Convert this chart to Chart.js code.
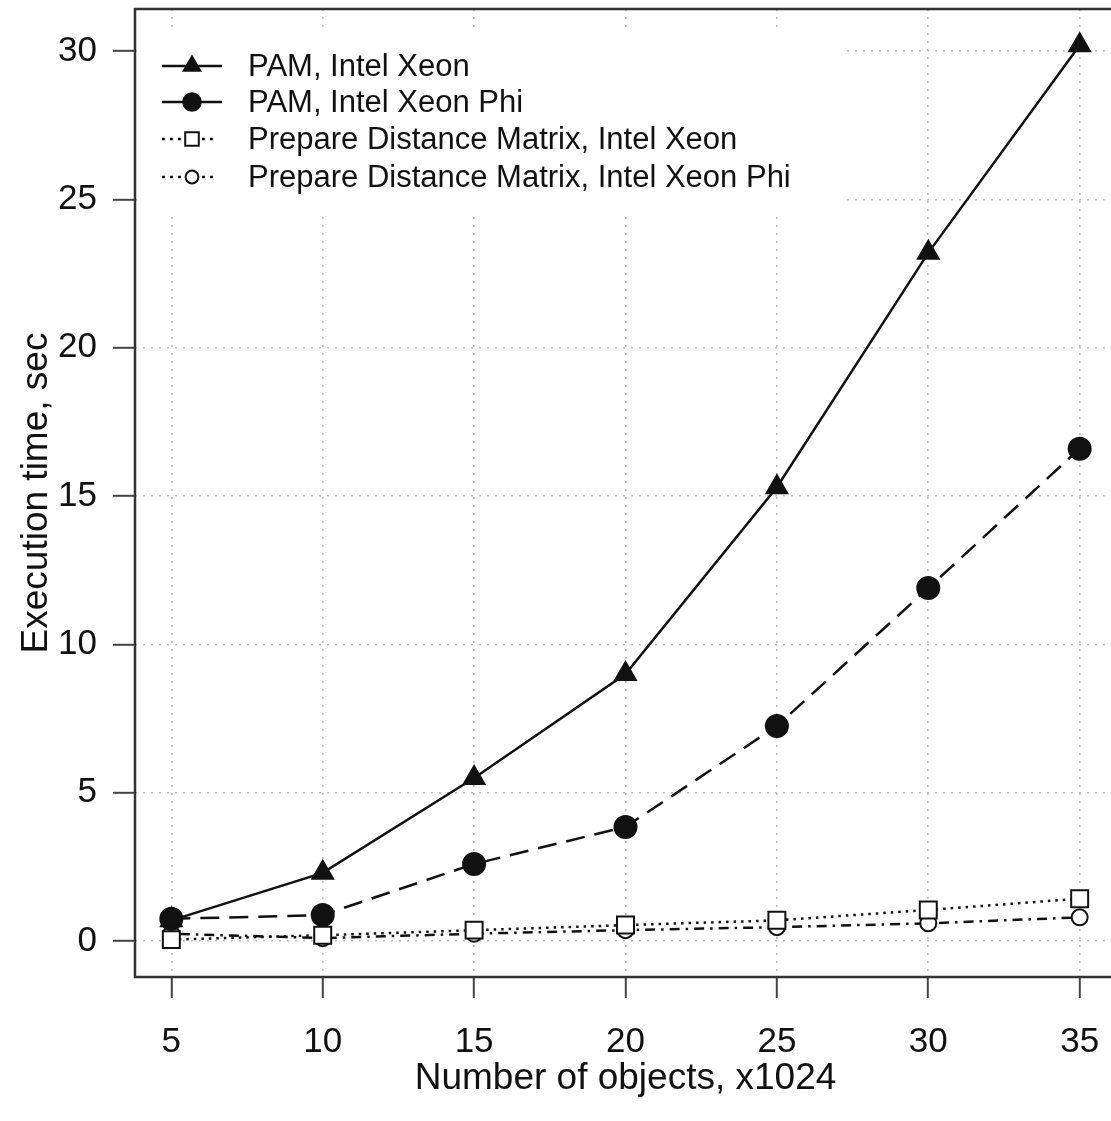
<!DOCTYPE html>
<html>
<head>
<meta charset="utf-8">
<script src="https://cdn.jsdelivr.net/npm/chart.js@4/dist/chart.umd.min.js"></script>
<style>
  html, body { margin: 0; padding: 0; overflow: hidden; background: #fff; }
  #execChart { display: block; margin-top: -28px; }
</style>
</head>
<body>
<canvas id="execChart" width="1130" height="1149"></canvas>
<script>
// values (x = number of objects, x1024; y = seconds)
const objects = [5, 10, 15, 20, 25, 30, 35];
const pamXeon = [0.7, 2.3, 5.5, 9.0, 15.3, 23.2, 30.2];
const pamXeonPhi = [0.75, 0.88, 2.6, 3.85, 7.25, 11.9, 16.6];
const prepXeon = [0.05, 0.2, 0.37, 0.54, 0.7, 1.05, 1.43];
const prepXeonPhi = [0.25, 0.1, 0.25, 0.37, 0.47, 0.6, 0.8];
const xTicks = [5, 10, 15, 20, 25, 30, 35];
const yTicks = [0, 5, 10, 15, 20, 25, 30];

const FONT = '"Liberation Sans", Arial, Helvetica, sans-serif';
const INK = '#111';
const GRID = '#bdbdbd';

function pts(values) {
  return objects.map((x, i) => ({ x, y: values[i] }));
}

const seriesStyles = [
  { label: 'PAM, Intel Xeon', data: pamXeon, dash: [], style: 'triangle', radius: 12, fill: INK },
  { label: 'PAM, Intel Xeon Phi', data: pamXeonPhi, dash: [19, 10], style: 'circle', radius: 11, fill: INK },
  { label: 'Prepare Distance Matrix, Intel Xeon', data: prepXeon, dash: [2.5, 5], style: 'rect', radius: 12, fill: '#fff' },
  { label: 'Prepare Distance Matrix, Intel Xeon Phi', data: prepXeonPhi, dash: [2.5, 6, 10, 6], style: 'circle', radius: 8, fill: '#fff' }
];

const datasets = seriesStyles.map(s => ({
  label: s.label,
  data: pts(s.data),
  borderColor: INK,
  borderWidth: 2.5,
  borderDash: s.dash,
  pointStyle: s.style,
  pointRadius: s.radius,
  pointBackgroundColor: s.fill,
  pointBorderColor: INK,
  pointBorderWidth: 2,
  tension: 0
}));

// white legend box in the top-left corner of the plot, drawn over the grid
const boxAndLegend = {
  id: 'boxAndLegend',
  beforeDatasetsDraw(chart) {
    const { ctx, chartArea: a } = chart;
    const top = a.top;
    ctx.save();
    ctx.fillStyle = '#fff';
    ctx.fillRect(a.left + 3, top + 19, 708, 184);

    const rowY = [57, 93, 130, 168].map(v => v + top);
    ctx.font = '31px ' + FONT;
    ctx.textBaseline = 'middle';
    seriesStyles.forEach((s, i) => {
      const y = rowY[i];
      ctx.strokeStyle = INK;
      ctx.lineWidth = 2.5;
      ctx.setLineDash(i >= 2 ? [3, 5] : []);
      ctx.beginPath();
      ctx.moveTo(162, y);
      ctx.lineTo(i >= 2 ? 216 : 222, y);
      ctx.stroke();
      ctx.setLineDash([]);
      ctx.fillStyle = s.fill;
      ctx.lineWidth = 2;
      Chart.helpers.drawPoint(ctx, {
        pointStyle: s.style,
        radius: s.radius * 0.8,
        rotation: 0,
        borderWidth: 2
      }, 192, y);
      ctx.fillStyle = INK;
      ctx.fillText(s.label, 248, y + 1);
    });
    ctx.restore();
  },
  afterDatasetsDraw(chart) {
    const { ctx, chartArea: a } = chart;
    ctx.save();
    ctx.strokeStyle = '#333';
    ctx.lineWidth = 2.5;
    ctx.strokeRect(a.left, a.top, a.right - a.left, a.bottom - a.top);
    ctx.restore();
  }
};

const gridOpts = {
  color: GRID,
  lineWidth: 1.6,
  drawTicks: true,
  tickColor: '#444',
  tickWidth: 2,
  tickBorderDash: []
};

new Chart(document.getElementById('execChart'), {
  type: 'line',
  data: { datasets },
  options: {
    responsive: false,
    animation: false,
    layout: { padding: { top: 9, right: 5, left: 0, bottom: 0 } },
    plugins: {
      legend: { display: false },
      tooltip: { enabled: false }
    },
    scales: {
      x: {
        type: 'linear',
        min: 3.8,
        max: 36.2,
        afterBuildTicks(scale) { scale.ticks = xTicks.map(v => ({ value: v })); },
        afterFit(scale) { scale.height = 144; },
        border: { display: false, dash: [2, 6] },
        grid: Object.assign({}, gridOpts, { tickLength: 21 }),
        ticks: {
          autoSkip: false,
          maxRotation: 0,
          padding: 23,
          color: INK,
          font: { family: FONT, size: 35 }
        },
        title: {
          display: true,
          text: 'Number of objects, x1024',
          color: INK,
          font: { family: FONT, size: 37 },
          padding: { top: 0, bottom: 20 }
        }
      },
      y: {
        type: 'linear',
        min: -1.21,
        max: 31.42,
        afterBuildTicks(scale) { scale.ticks = yTicks.map(v => ({ value: v })); },
        afterFit(scale) { scale.width = 135; },
        border: { display: false, dash: [2, 6] },
        grid: Object.assign({}, gridOpts, { tickLength: 22 }),
        ticks: {
          padding: 16,
          color: INK,
          font: { family: FONT, size: 35 }
        },
        title: {
          display: true,
          text: 'Execution time, sec',
          color: INK,
          font: { family: FONT, size: 37 },
          padding: { top: 15, bottom: 0 }
        }
      }
    }
  },
  plugins: [boxAndLegend]
});
</script>
</body>
</html>
